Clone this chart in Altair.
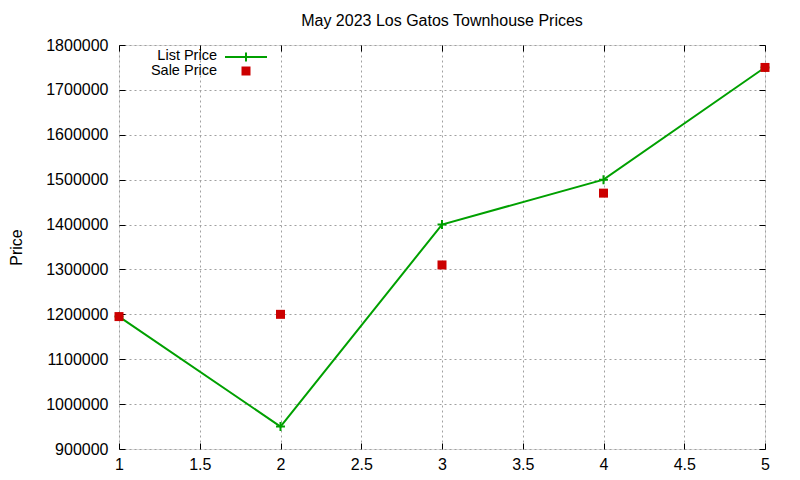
import altair as alt
import pandas as pd

# values
x_vals = [1, 2, 3, 4, 5]
list_price = [1195000, 950000, 1400000, 1500000, 1750000]
sale_price = [1195000, 1200000, 1310000, 1470000, 1750000]
x_ticks = [1, 1.5, 2, 2.5, 3, 3.5, 4, 4.5, 5]
y_ticks = [900000, 1000000, 1100000, 1200000, 1300000, 1400000, 1500000, 1600000, 1700000, 1800000]

GREEN = "#00a000"
RED = "#cc0000"
FONT = "Liberation Sans"
PLUS = "M-1,0H1M0,-1V1"

df = pd.DataFrame({"x": x_vals, "list": list_price, "sale": sale_price})
one = pd.DataFrame({"k": [0]})  # single row for the key marks

x_scale = alt.Scale(domain=[1, 5], nice=False)
y_scale = alt.Scale(domain=[900000, 1800000], nice=False, zero=False)

grid_axis = dict(grid=True, gridColor="#a0a0a0", gridDash=[2, 3], gridWidth=1,
                 ticks=False, domain=False, labelFont=FONT, labelFontSize=16,
                 labelColor="#000000", labelFlush=False, labelOverlap=False)


def tick_axis(orient, values):
    # inside ticks: axis pulled into the plot by the tick length
    return alt.Axis(orient=orient, offset=-6, tickSize=6, tickColor="#000000",
                    values=values, labels=False, grid=False, domain=False,
                    title=None)


line = alt.Chart(df).mark_line(color=GREEN, strokeWidth=2).encode(
    x=alt.X("x:Q", scale=x_scale,
            axis=alt.Axis(values=x_ticks, format="~g", labelPadding=7, title=None,
                          **grid_axis)),
    y=alt.Y("list:Q", scale=y_scale,
            axis=alt.Axis(values=y_ticks, format="d", labelPadding=11,
                          title="Price", titleFont=FONT, titleFontSize=16,
                          titleFontWeight="normal", titleX=-103, titleY=202,
                          titleAlign="center", titleBaseline="middle", **grid_axis)),
)

list_pts = alt.Chart(df).mark_point(shape=PLUS, filled=False, color=GREEN,
                                    strokeWidth=2, size=80, opacity=1).encode(
    x=alt.X("x:Q", scale=x_scale, axis=tick_axis("bottom", x_ticks)),
    y=alt.Y("list:Q", scale=y_scale, axis=tick_axis("left", y_ticks)),
)

sale_pts = alt.Chart(df).mark_square(color=RED, size=81, opacity=1).encode(
    x=alt.X("x:Q", scale=x_scale, axis=tick_axis("top", x_ticks)),
    y=alt.Y("sale:Q", scale=y_scale, axis=tick_axis("right", y_ticks)),
)

# key, top left inside the frame
key_text = dict(font=FONT, fontSize=14.5, align="right", baseline="middle", color="#000000")
key = (
    alt.Chart(one).mark_text(text="List Price", **key_text).encode(x=alt.value(98), y=alt.value(10.5))
    + alt.Chart(one).mark_rule(color=GREEN, strokeWidth=2).encode(
        x=alt.value(106), x2=alt.value(148), y=alt.value(12))
    + alt.Chart(one).mark_point(shape=PLUS, filled=False, color=GREEN, strokeWidth=2,
                                size=80, opacity=1).encode(x=alt.value(127), y=alt.value(12))
    + alt.Chart(one).mark_text(text="Sale Price", **key_text).encode(x=alt.value(98), y=alt.value(25.5))
    + alt.Chart(one).mark_square(color=RED, size=81, opacity=1).encode(x=alt.value(127), y=alt.value(26))
)

chart = (
    alt.layer(line, list_pts, sale_pts, key)
    .resolve_axis(x="independent", y="independent")
    .properties(
        width=646,
        height=404,
        autosize=alt.AutoSizeParams(type="none"),
        padding={"left": 111, "top": 37, "right": 27, "bottom": 30},
        title=alt.TitleParams("May 2023 Los Gatos Townhouse Prices", font=FONT,
                              fontSize=16, fontWeight="normal", color="#000000",
                              anchor="middle", offset=8),
    )
    .configure_view(stroke="#000000", strokeWidth=1)
    .configure(background="#ffffff")
)

chart.save("out.html", embed_options={"renderer": "svg", "actions": False})
